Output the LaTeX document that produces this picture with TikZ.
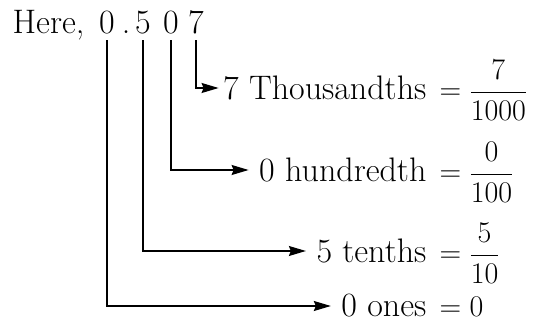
\RequirePackage{fix-cm}
\documentclass[tikz,border=0pt]{standalone}
\usepackage{amsmath}
\usepackage{fontspec}
\usetikzlibrary{arrows.meta,calc}
\begin{document}
\begin{tikzpicture}[x=1pt, y=1pt, line width=1.3pt,
  txt/.style={font=\fontsize{34}{41}\selectfont, inner sep=0pt},
  digit/.style={txt, anchor=base, inner ysep=5pt},
  word/.style={txt, anchor=east, inner xsep=10pt},
  eqn/.style={font=\fontsize{30}{36}\selectfont, inner sep=0pt, anchor=base west},
  link/.style={-{Stealth[length=17pt, width=10pt, inset=2pt]}}]
  \useasboundingbox (0,0) rectangle (536,324);
  \node[txt, anchor=base west] (here) at (12,290) {Here,};
  \node[digit] (ones) at (107,290) {0};
  \node[digit] (point) at (126,290) {.};
  \node[digit] (tenth) at (143,290) {5};
  \node[digit] (hund) at (171,290) {0};
  \node[digit] (thou) at (196,290) {7};
  \coordinate (eqx) at (439,0);
  \node[word, inner xsep=4pt] (wthou) at (431,236) {7 Thousandths};
  \node[word] (whund) at (437,154) {0 hundredth};
  \node[word] (wtenth) at (437,73) {5 tenths};
  \node[word] (wones) at (437,18) {0 ones};
  \node[eqn] (ethou) at (wthou.base -| eqx) {$=\dfrac{7}{1000}$};
  \node[eqn] (ehund) at (whund.base -| eqx) {$=\dfrac{0}{100}$};
  \node[eqn] (etenth) at (wtenth.base -| eqx) {$=\dfrac{5}{10}$};
  \node[eqn] (eones) at (wones.base -| eqx) {$=0$};
  \draw[link] (thou.south) |- (wthou.west);
  \draw[link] (hund.south) |- (whund.west);
  \draw[link] (tenth.south) |- (wtenth.west);
  \draw[link] (ones.south) |- (wones.west);
\end{tikzpicture}
\end{document}
